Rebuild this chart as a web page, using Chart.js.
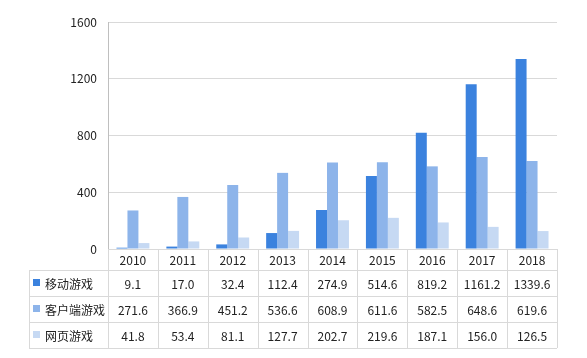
<!DOCTYPE html>
<html>
<head>
<meta charset="utf-8">
<script src="https://cdn.jsdelivr.net/npm/chart.js@4"></script>
<style>
  html, body { margin: 0; padding: 0; background: #fff; }
  #wrap { width: 587px; height: 358px; }
</style>
</head>
<body>
<div id="wrap"><canvas id="chart" width="587" height="358"></canvas></div>
<script>
// ================= DATA =================
const years = ["2010", "2011", "2012", "2013", "2014", "2015", "2016", "2017", "2018"];
const mobile = [9.1, 17.0, 32.4, 112.4, 274.9, 514.6, 819.2, 1161.2, 1339.6];
const client = [271.6, 366.9, 451.2, 536.6, 608.9, 611.6, 582.5, 648.6, 619.6];
const web = [41.8, 53.4, 81.1, 127.7, 202.7, 219.6, 187.1, 156.0, 126.5];
const seriesNames = ["移动游戏", "客户端游戏", "网页游戏"];
const yTicks = [0, 400, 800, 1200, 1600];

const colors = ["#3b82de", "#8db4ea", "#c6d9f3"];
const font = "'Noto Sans CJK SC', 'Noto Sans', sans-serif";
const lineColor = "#d9d9d9";

// ================= DATA TABLE PLUGIN =================
const dataTable = {
  id: "dataTable",
  afterDraw(chart) {
    const ctx = chart.ctx;
    const area = chart.chartArea;
    const xs = chart.scales.x;
    const step = (area.right - area.left) / years.length;
    const top = area.bottom;
    const rowH = [21, 26, 26, 26];
    const tableLeft = 29;
    const rows = [mobile, client, web];

    ctx.save();
    ctx.strokeStyle = lineColor;
    ctx.lineWidth = 1;

    // horizontal lines
    let y = top;
    const rowY = [top];
    rowH.forEach(h => { y += h; rowY.push(y); });
    rowY.slice(1).forEach(yy => {
      ctx.beginPath();
      ctx.moveTo(tableLeft, Math.round(yy) + 0.5);
      ctx.lineTo(area.right, Math.round(yy) + 0.5);
      ctx.stroke();
    });

    // vertical lines
    for (let k = 0; k <= years.length; k++) {
      const x = Math.round(area.left + k * step) + 0.5;
      ctx.beginPath();
      ctx.moveTo(x, top);
      ctx.lineTo(x, rowY[rowY.length - 1]);
      ctx.stroke();
    }
    ctx.beginPath();
    ctx.moveTo(tableLeft + 0.5, rowY[1]);
    ctx.lineTo(tableLeft + 0.5, rowY[rowY.length - 1]);
    ctx.stroke();

    // text
    ctx.fillStyle = "#222";
    ctx.font = "12px " + font;
    ctx.textAlign = "center";
    ctx.textBaseline = "middle";
    years.forEach((yr, i) => {
      const cx = xs.getPixelForTick(i);
      ctx.fillText(yr, cx, (rowY[0] + rowY[1]) / 2 + 1);
      rows.forEach((r, j) => {
        ctx.fillText(r[i].toFixed(1), cx, (rowY[j + 1] + rowY[j + 2]) / 2 + 1);
      });
    });

    // legend labels
    ctx.textAlign = "left";
    seriesNames.forEach((name, j) => {
      const cy = (rowY[j + 1] + rowY[j + 2]) / 2;
      ctx.fillStyle = colors[j];
      ctx.fillRect(33, Math.round(cy) - 4, 7, 7);
      ctx.fillStyle = "#222";
      ctx.fillText(name, 45, cy + 1);
    });
    ctx.restore();
  }
};

// ================= CHART =================
new Chart(document.getElementById("chart"), {
  type: "bar",
  data: {
    labels: years,
    datasets: [
      { label: seriesNames[0], data: mobile, backgroundColor: colors[0] },
      { label: seriesNames[1], data: client, backgroundColor: colors[1] },
      { label: seriesNames[2], data: web, backgroundColor: colors[2] }
    ]
  },
  options: {
    responsive: false,
    animation: false,
    devicePixelRatio: 1,
    layout: { padding: { top: 22, right: 30, bottom: 109, left: 0 } },
    plugins: { legend: { display: false }, tooltip: { enabled: false } },
    datasets: { bar: { categoryPercentage: 0.66, barPercentage: 1.0 } },
    scales: {
      x: { display: false },
      y: {
        min: 0,
        max: 1600,
        afterFit: s => { s.width = 108; },
        afterBuildTicks: s => { s.ticks = yTicks.map(v => ({ value: v })); },
        ticks: {
          padding: 11,
          color: "#222",
          font: { size: 12, family: font },
          callback: v => String(v)
        },
        grid: { color: lineColor, drawTicks: false },
        border: { display: true, color: "#bfbfbf" }
      }
    }
  },
  plugins: [dataTable]
});
</script>
</body>
</html>
